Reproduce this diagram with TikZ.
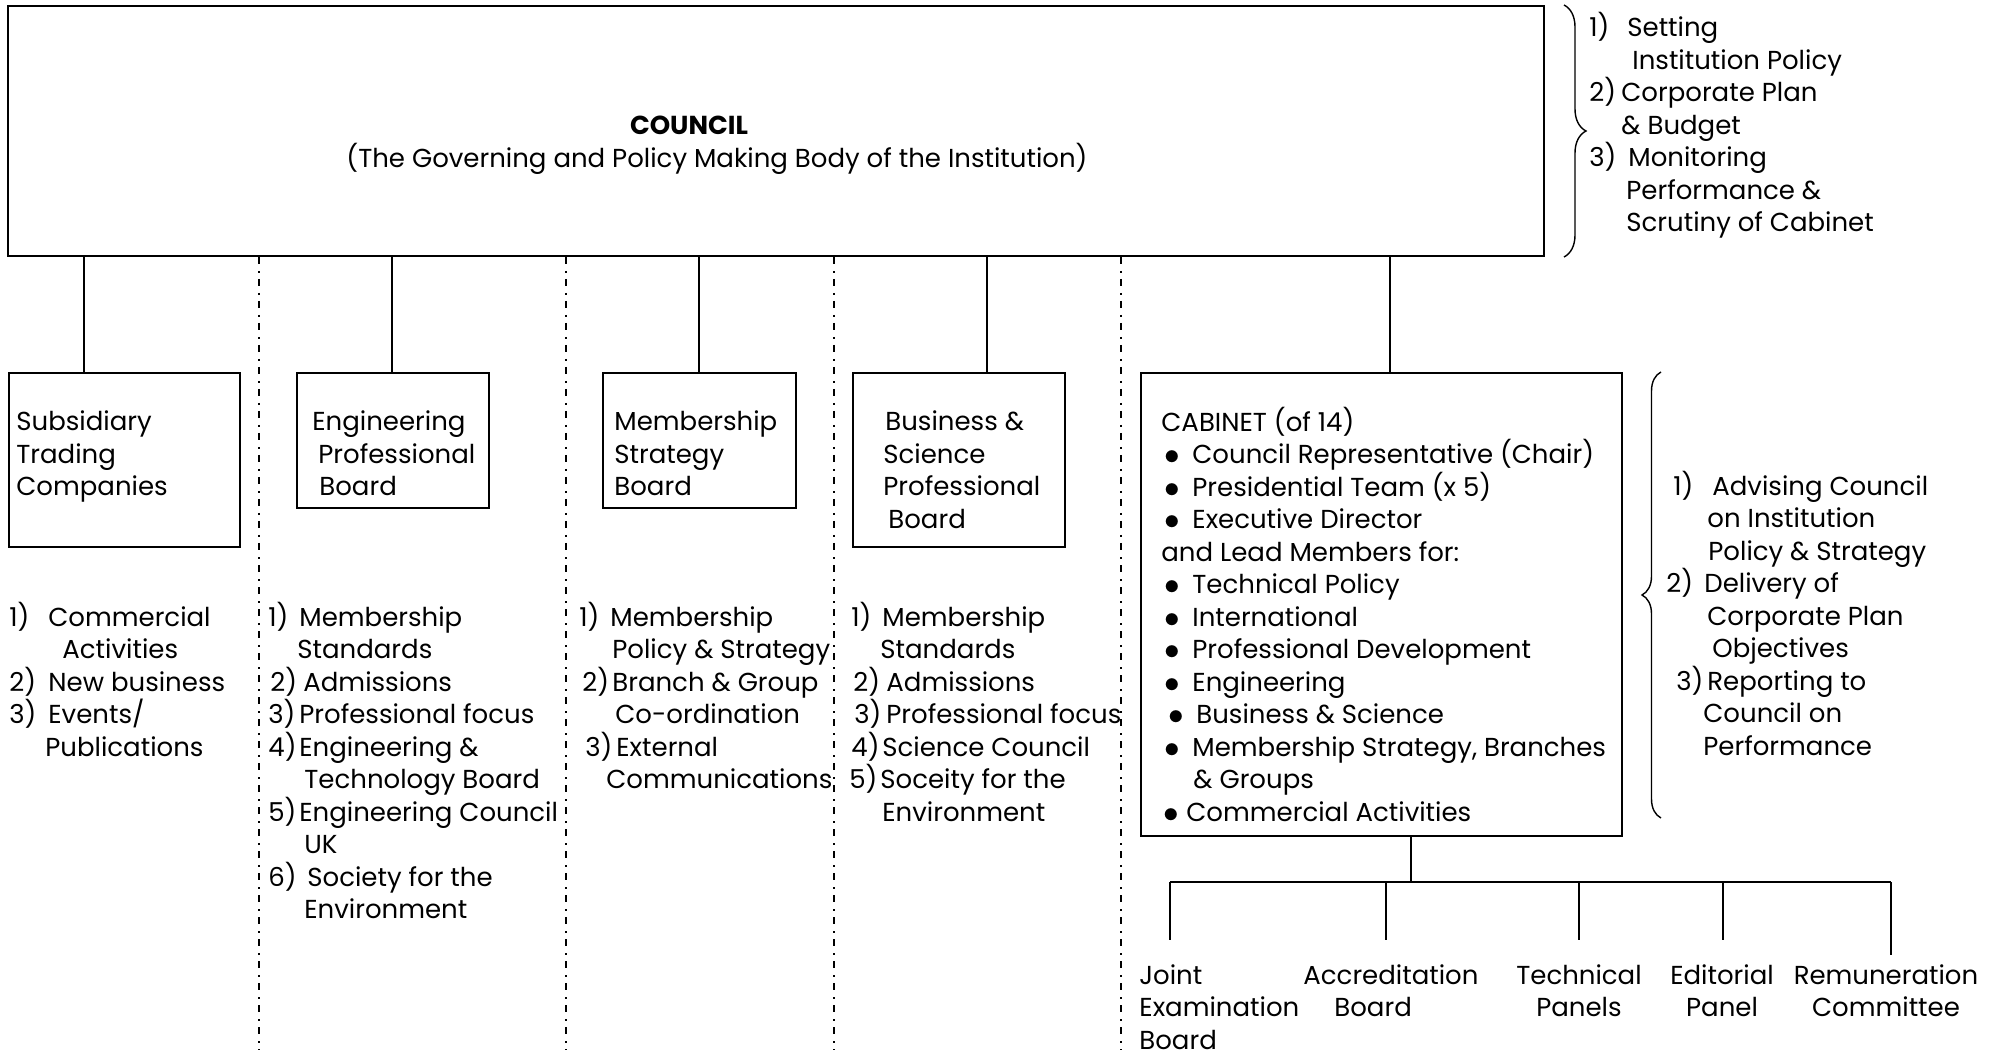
\documentclass[tikz,border=0pt]{standalone}
\usepackage{fontspec}
\setmainfont{Poppins}
\usetikzlibrary{positioning, decorations.pathreplacing}

\newdimen\pxu \pxu=0.5pt
\newcommand{\numtag}[3]{\hspace*{#1\pxu}\makebox[#2\pxu][l]{#3}}
\newcommand{\hind}[1]{\hspace*{#1\pxu}}
\newcommand{\bul}{\raisebox{-0.6pt}{\scalebox{1.3}{$\bullet$}}}

\tikzset{
  box/.style={draw, line width=1pt, inner sep=0pt},
  conn/.style={line width=0.75pt},
  sep/.style={line width=0.8pt, dash pattern=on 3.5pt off 3.5pt on 1pt off 3pt},
  txt/.style={inner sep=0pt, align=left, anchor=base west, font=\fontsize{13pt}{16.25pt}\selectfont},
  ctxt/.style={txt, align=center, anchor=base},
  brc/.style={decorate, line width=0.7pt, decoration={brace, amplitude=#1}},
}

\begin{document}
\begin{tikzpicture}[x=0.5pt, y=-0.5pt]
\useasboundingbox (0,0) rectangle (1998,1053);

% Council (text nodes sit on the baseline of their last line)
\node[box, minimum width=768pt, minimum height=125pt] (council) at (776,131) {};
\node[ctxt, font=\fontsize{13pt}{16.25pt}\selectfont\bfseries] (council-title) at (689,135) {COUNCIL};
\node[ctxt] (council-sub) at (717,168) {(The Governing and Policy Making Body of the Institution)};

% Council remit
\draw[brc=11pt] ([xshift=9.5pt]council.north east) -- ([xshift=9.5pt]council.south east);
\node[txt] (council-remit) at (1589,232) {\numtag{0}{38}{1)}Setting\\ \hind{43}Institution Policy\\
  \numtag{0}{32}{2)}Corporate Plan\\ \hind{32}\& Budget\\ \numtag{0}{39}{3)}Monitoring\\
  \hind{37}Performance \&\\ \hind{37}Scrutiny of Cabinet};

% Boards
\node[box, minimum width=115.5pt, minimum height=87pt] (subs) at (124.5,460) {};
\node[box, minimum width=96pt, minimum height=67.5pt] (eng) at (393,440.5) {};
\node[box, minimum width=96.5pt, minimum height=67.5pt] (memb) at (699.5,440.5) {};
\node[box, minimum width=106pt, minimum height=87pt] (bus) at (959,460) {};
\node[box, minimum width=240.5pt, minimum height=231.5pt] (cab) at (1381.5,604.5) {};

\node[txt] (subs-name) at (16,496) {Subsidiary\\Trading\\Companies};
\node[txt] (eng-name) at (312,496) {Engineering\\ \hind{6}Professional\\ \hind{7}Board};
\node[txt] (memb-name) at (614,496) {Membership\\Strategy\\Board};
\node[txt] (bus-name) at (883,528.5) {\hind{2}Business \&\\Science\\Professional\\ \hind{5}Board};

\foreach \n/\x in {subs/84, eng/392, memb/699, bus/987, cab/1390}
  \draw[conn] (council.south -| \x,0) -- (\n.north -| \x,0);

% Separators
\foreach \x in {259,566,834,1121}
  \draw[sep] (council.south -| \x,0) -- (\x,1050);

% Cabinet
\node[txt] (cab-list) at (1161,821) {CABINET (of 14)\\
  \numtag{3}{28}{\bul}Council Representative (Chair)\\
  \numtag{3}{28}{\bul}Presidential Team (x 5)\\
  \numtag{3}{28}{\bul}Executive Director\\
  and Lead Members for:\\
  \numtag{3}{28}{\bul}Technical Policy\\
  \numtag{3}{28}{\bul}International\\
  \numtag{3}{28}{\bul}Professional Development\\
  \numtag{3}{28}{\bul}Engineering\\
  \numtag{7}{28}{\bul}Business \& Science\\
  \numtag{3}{28}{\bul}Membership Strategy, Branches\\
  \hind{32}\& Groups\\
  \numtag{2}{23}{\bul}Commercial Activities};

% Cabinet remit
\draw[brc=9.5pt] ([xshift=19pt, yshift=9.5pt]cab.south east) -- ([xshift=19pt]cab.north east);
\node[txt] (cab-remit) at (1666,755) {\numtag{7}{39}{1)}Advising Council\\ \hind{41}on Institution\\
  \hind{42}Policy \& Strategy\\ \numtag{0}{38}{2)}Delivery of\\ \hind{41}Corporate Plan\\
  \hind{46}Objectives\\ \numtag{10}{31}{3)}Reporting to\\ \hind{37}Council on\\ \hind{37}Performance};

% Board remits
\node[txt] (subs-remit) at (9,756) {\numtag{0}{39}{1)}Commercial\\ \hind{53}Activities\\
  \numtag{0}{39}{2)}New business\\ \numtag{0}{39}{3)}Events/\\ \hind{36}Publications};
\node[txt] (eng-remit) at (268,918.5) {\numtag{0}{31}{1)}Membership\\ \hind{29}Standards\\
  \numtag{2}{33}{2)}Admissions\\ \numtag{0}{31}{3)}Professional focus\\
  \numtag{0}{31}{4)}Engineering \&\\ \hind{36}Technology Board\\
  \numtag{0}{31}{5)}Engineering Council\\ \hind{36}UK\\
  \numtag{0}{39}{6)}Society for the\\ \hind{36}Environment};
\node[txt] (memb-remit) at (579,788.5) {\numtag{0}{31}{1)}Membership\\ \hind{33}Policy \& Strategy\\
  \numtag{3}{30}{2)}Branch \& Group\\ \hind{36}Co-ordination\\
  \numtag{6}{31}{3)}External\\ \hind{27}Communications};
\node[txt] (bus-remit) at (849,821) {\numtag{2}{31}{1)}Membership\\ \hind{31}Standards\\
  \numtag{4}{33}{2)}Admissions\\ \numtag{5}{32}{3)}Professional focus\\
  \numtag{2}{31}{4)}Science Council\\ \numtag{0}{31}{5)}Soceity for the\\ \hind{33}Environment};

% Committees under Cabinet
\node[txt] (joint) at (1139,1049) {Joint\\Examination\\Board};
\node[txt] (accr) at (1303,1016.5) {Accreditation\\ \hind{31}Board};
\node[ctxt] (tech) at (1579,1016.5) {Technical\\Panels};
\node[ctxt] (edit) at (1722,1016.5) {Editorial\\Panel};
\node[ctxt] (remun) at (1886,1016.5) {Remuneration\\Committee};

\coordinate (cab-foot) at (cab.south -| 1411,0);
\coordinate (bar) at (1411,882);
\coordinate (joint-top) at (1170,940);
\coordinate (accr-top) at (1386,940);
\coordinate (tech-top) at (1579,940);
\coordinate (edit-top) at (1723,940);
\coordinate (remun-top) at (1891,955);
\draw[conn] (cab-foot) -- (bar);
\draw[conn] (joint-top |- bar) -- (remun-top |- bar);
\foreach \n in {joint,accr,tech,edit,remun}
  \draw[conn] (\n-top |- bar) -- (\n-top);
\end{tikzpicture}
\end{document}
